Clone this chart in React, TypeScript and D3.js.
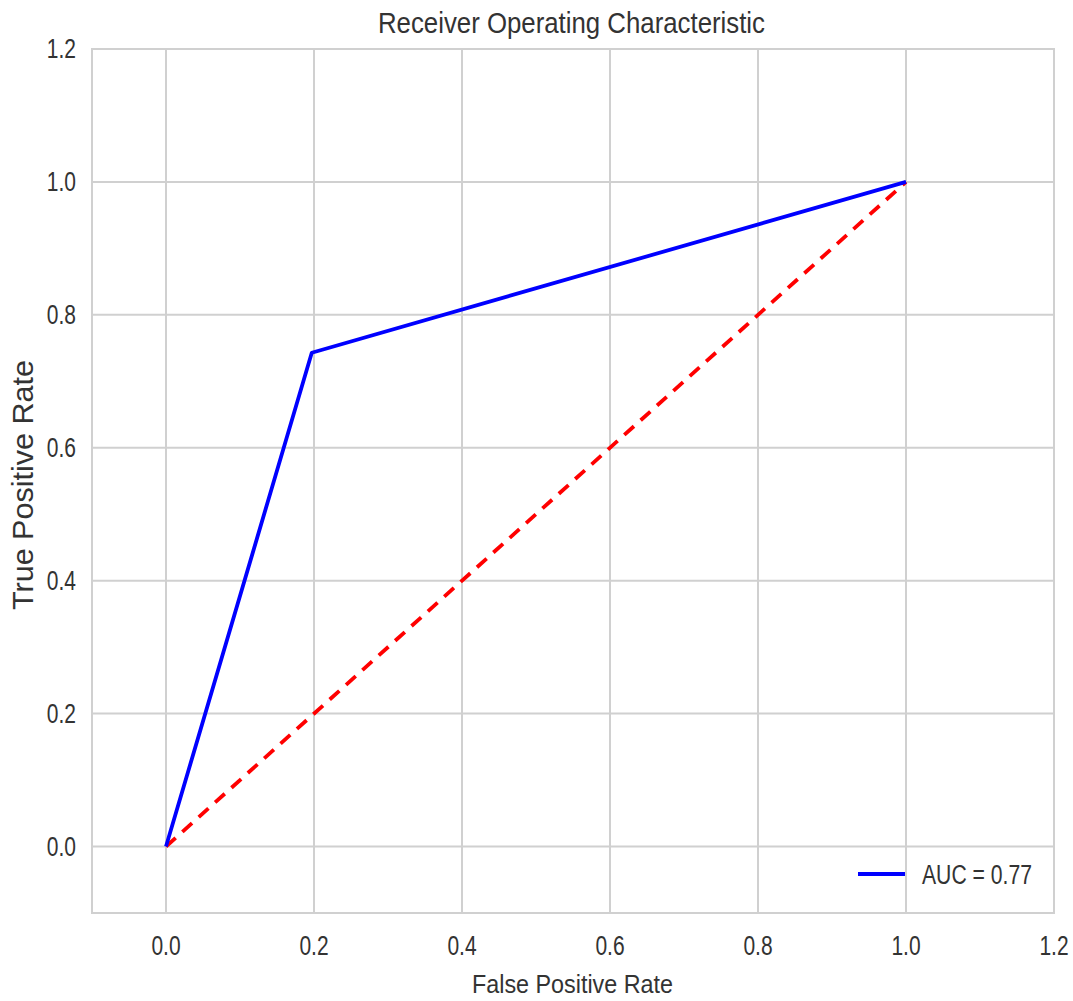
import React from "react";
import * as d3 from "d3";

const fpr = [0, 0.197, 1];
const tpr = [0, 0.743, 1];
const chanceX = [0, 1];
const chanceY = [0, 1];
const xTicks = [0, 0.2, 0.4, 0.6, 0.8, 1.0, 1.2];
const yTicks = [0, 0.2, 0.4, 0.6, 0.8, 1.0, 1.2];
const title = "Receiver Operating Characteristic";
const xLabel = "False Positive Rate";
const yLabel = "True Positive Rate";
const legendLabel = "AUC = 0.77";

const W = 1073;
const H = 1001;
const L = 92, R = 1054, T = 49, B = 913;
const FONT = "'Liberation Sans', Arial, sans-serif";
const TEXT = "#333333";
const GRID = "#d0d0d0";
const SQUEEZE = 0.75;

export default function App() {
  const x = d3.scaleLinear().domain([-0.1, 1.2]).range([L, R]);
  const y = d3.scaleLinear().domain([-0.1, 1.2]).range([B, T]);
  const line = d3.line<[number, number]>().x((d) => x(d[0])).y((d) => y(d[1]));
  const rocPts = fpr.map((f, i) => [f, tpr[i]] as [number, number]);
  const diagPts = chanceX.map((f, i) => [f, chanceY[i]] as [number, number]);
  const fmt = d3.format(".1f");

  return (
    <svg
      width={W}
      height={H}
      style={{ position: "absolute", left: 0, top: 0, background: "#fff" }}
      fontFamily={FONT}
    >
      <rect x={0} y={0} width={W} height={H} fill="#fff" />
      {xTicks.map((t) => (
        <line key={"gx" + t} x1={x(t)} x2={x(t)} y1={T} y2={B} stroke={GRID} strokeWidth={2} />
      ))}
      {yTicks.map((t) => (
        <line key={"gy" + t} x1={L} x2={R} y1={y(t)} y2={y(t)} stroke={GRID} strokeWidth={2} />
      ))}
      <rect x={L} y={T} width={R - L} height={B - T} fill="none" stroke={GRID} strokeWidth={2} />

      <path d={line(diagPts) || ""} fill="none" stroke="#ff0000" strokeWidth={3.8} strokeDasharray="13,9" />
      <path d={line(rocPts) || ""} fill="none" stroke="#0000ff" strokeWidth={3.8} strokeLinejoin="round" />

      {xTicks.map((t) => (
        <g key={"tx" + t} transform={`translate(${x(t)},955) scale(${SQUEEZE},1)`}>
          <text x={0} y={0} textAnchor="middle" fontSize={28} fill={TEXT}>
            {fmt(t)}
          </text>
        </g>
      ))}
      {yTicks.map((t) => (
        <g key={"ty" + t} transform={`translate(76,${y(t) + 9}) scale(${SQUEEZE},1)`}>
          <text x={0} y={0} textAnchor="end" fontSize={28} fill={TEXT}>
            {fmt(t)}
          </text>
        </g>
      ))}

      <text x={571.5} y={33} textAnchor="middle" fontSize={29} fill={TEXT}
        textLength={387} lengthAdjust="spacingAndGlyphs">
        {title}
      </text>
      <text x={572.5} y={993} textAnchor="middle" fontSize={25} fill={TEXT}
        textLength={201} lengthAdjust="spacingAndGlyphs">
        {xLabel}
      </text>
      <text transform={`translate(33,485) rotate(-90)`} textAnchor="middle" fontSize={29} fill={TEXT}
        textLength={250} lengthAdjust="spacingAndGlyphs">
        {yLabel}
      </text>

      <line x1={858} x2={905} y1={874} y2={874} stroke="#0000ff" strokeWidth={3.8} />
      <text x={922} y={884} fontSize={27} fill={TEXT} textLength={110} lengthAdjust="spacingAndGlyphs">
        {legendLabel}
      </text>
    </svg>
  );
}
